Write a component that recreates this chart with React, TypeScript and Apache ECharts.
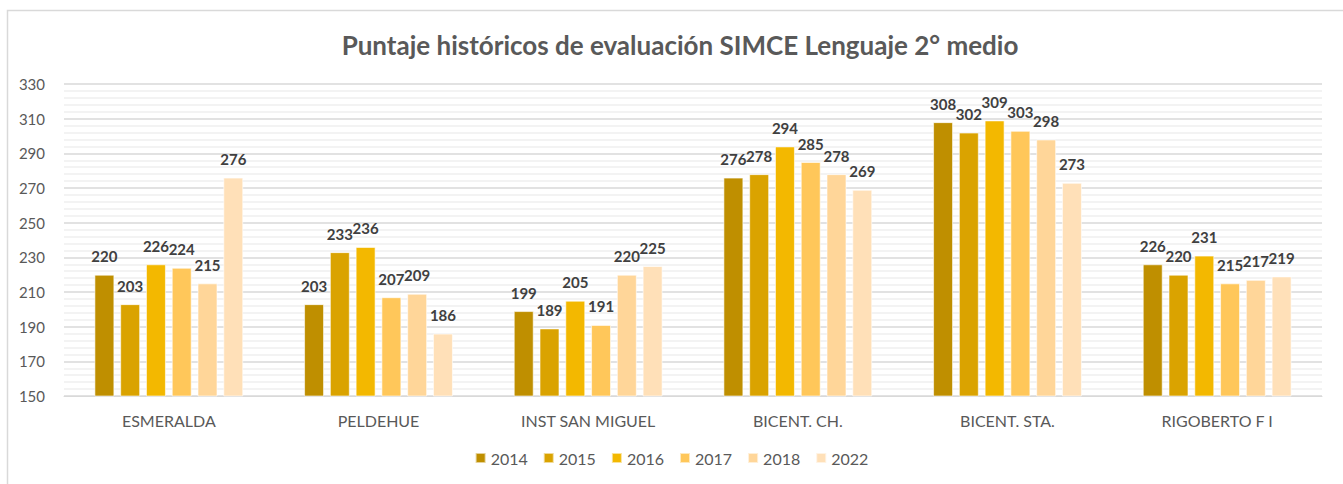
import React, { useEffect, useRef } from "react";
import * as echarts from "echarts";

const categories = ["ESMERALDA", "PELDEHUE", "INST SAN MIGUEL", "BICENT. CH.", "BICENT. STA.", "RIGOBERTO F I"];
const years = ["2014", "2015", "2016", "2017", "2018", "2022"];
const s2014 = [220, 203, 199, 276, 308, 226];
const s2015 = [203, 233, 189, 278, 302, 220];
const s2016 = [226, 236, 205, 294, 309, 231];
const s2017 = [224, 207, 191, 285, 303, 215];
const s2018 = [215, 209, 220, 278, 298, 217];
const s2022 = [276, 186, 225, 269, 273, 219];
const yTicks = { min: 150, max: 330, interval: 20 };
const colors = ["#BF8F00", "#DAA300", "#F3B800", "#FFC75A", "#FFD699", "#FFE0B8"];

export default function App() {
  const ref = useRef<HTMLDivElement>(null);
  useEffect(() => {
    const chart = echarts.init(ref.current!, null, { renderer: "svg" });
    const seriesData = [s2014, s2015, s2016, s2017, s2018, s2022];
    const font = "Lato, 'Open Sans', sans-serif";
    chart.setOption({
      animation: false,
      textStyle: { fontFamily: font },
      title: {
        text: "Puntaje históricos de evaluación SIMCE Lenguaje 2° medio",
        left: 675,
        textAlign: "center",
        top: 27,
        textStyle: { fontSize: 26, fontWeight: "bold", color: "#595959", fontFamily: font },
      },
      graphic: [
        {
          type: "rect",
          shape: { x: 7.5, y: 10.5, width: 1400, height: 600 },
          style: { fill: "none", stroke: "#d9d9d9", lineWidth: 1.5 },
          silent: true,
        },
      ],
      legend: {
        data: years,
        bottom: 13,
        left: "center",
        itemWidth: 10,
        itemHeight: 10,
        itemGap: 15,
        icon: "rect",
        textStyle: { fontSize: 16, color: "#595959", fontFamily: font },
      },
      grid: { left: 64, right: 21, top: 84, bottom: 88, containLabel: false },
      xAxis: {
        type: "category",
        data: categories,
        axisLine: { lineStyle: { color: "#d9d9d9", width: 1 } },
        axisTick: { show: false },
        axisLabel: { fontSize: 16, color: "#595959", margin: 16, fontFamily: font },
      },
      yAxis: {
        type: "value",
        min: yTicks.min,
        max: yTicks.max,
        interval: yTicks.interval,
        axisLine: { show: false },
        axisTick: { show: false },
        axisLabel: { fontSize: 15, color: "#595959", margin: 19, fontFamily: font },
        splitLine: { lineStyle: { color: "#d9d9d9", width: 1.5 } },
        minorTick: { show: false, splitNumber: 5 },
        minorSplitLine: { show: true, lineStyle: { color: "#efefef", width: 1.5 } },
      },
      series: seriesData.map((d, i) => ({
        name: years[i],
        type: "bar",
        data: d,
        barGap: "29%",
        barCategoryGap: "29%",
        itemStyle: { color: colors[i], borderColor: "rgba(255,255,255,0.6)", borderWidth: 1 },
        label: {
          show: true,
          position: "top",
          distance: 11,
          fontSize: 15,
          fontWeight: "bold",
          color: "#404040",
          fontFamily: font,
        },
      })),
    });
    return () => chart.dispose();
  }, []);
  return (
    <div
      ref={ref}
      style={{ position: "absolute", left: 0, top: 0, width: 1343, height: 484, background: "#fff" }}
    />
  );
}
